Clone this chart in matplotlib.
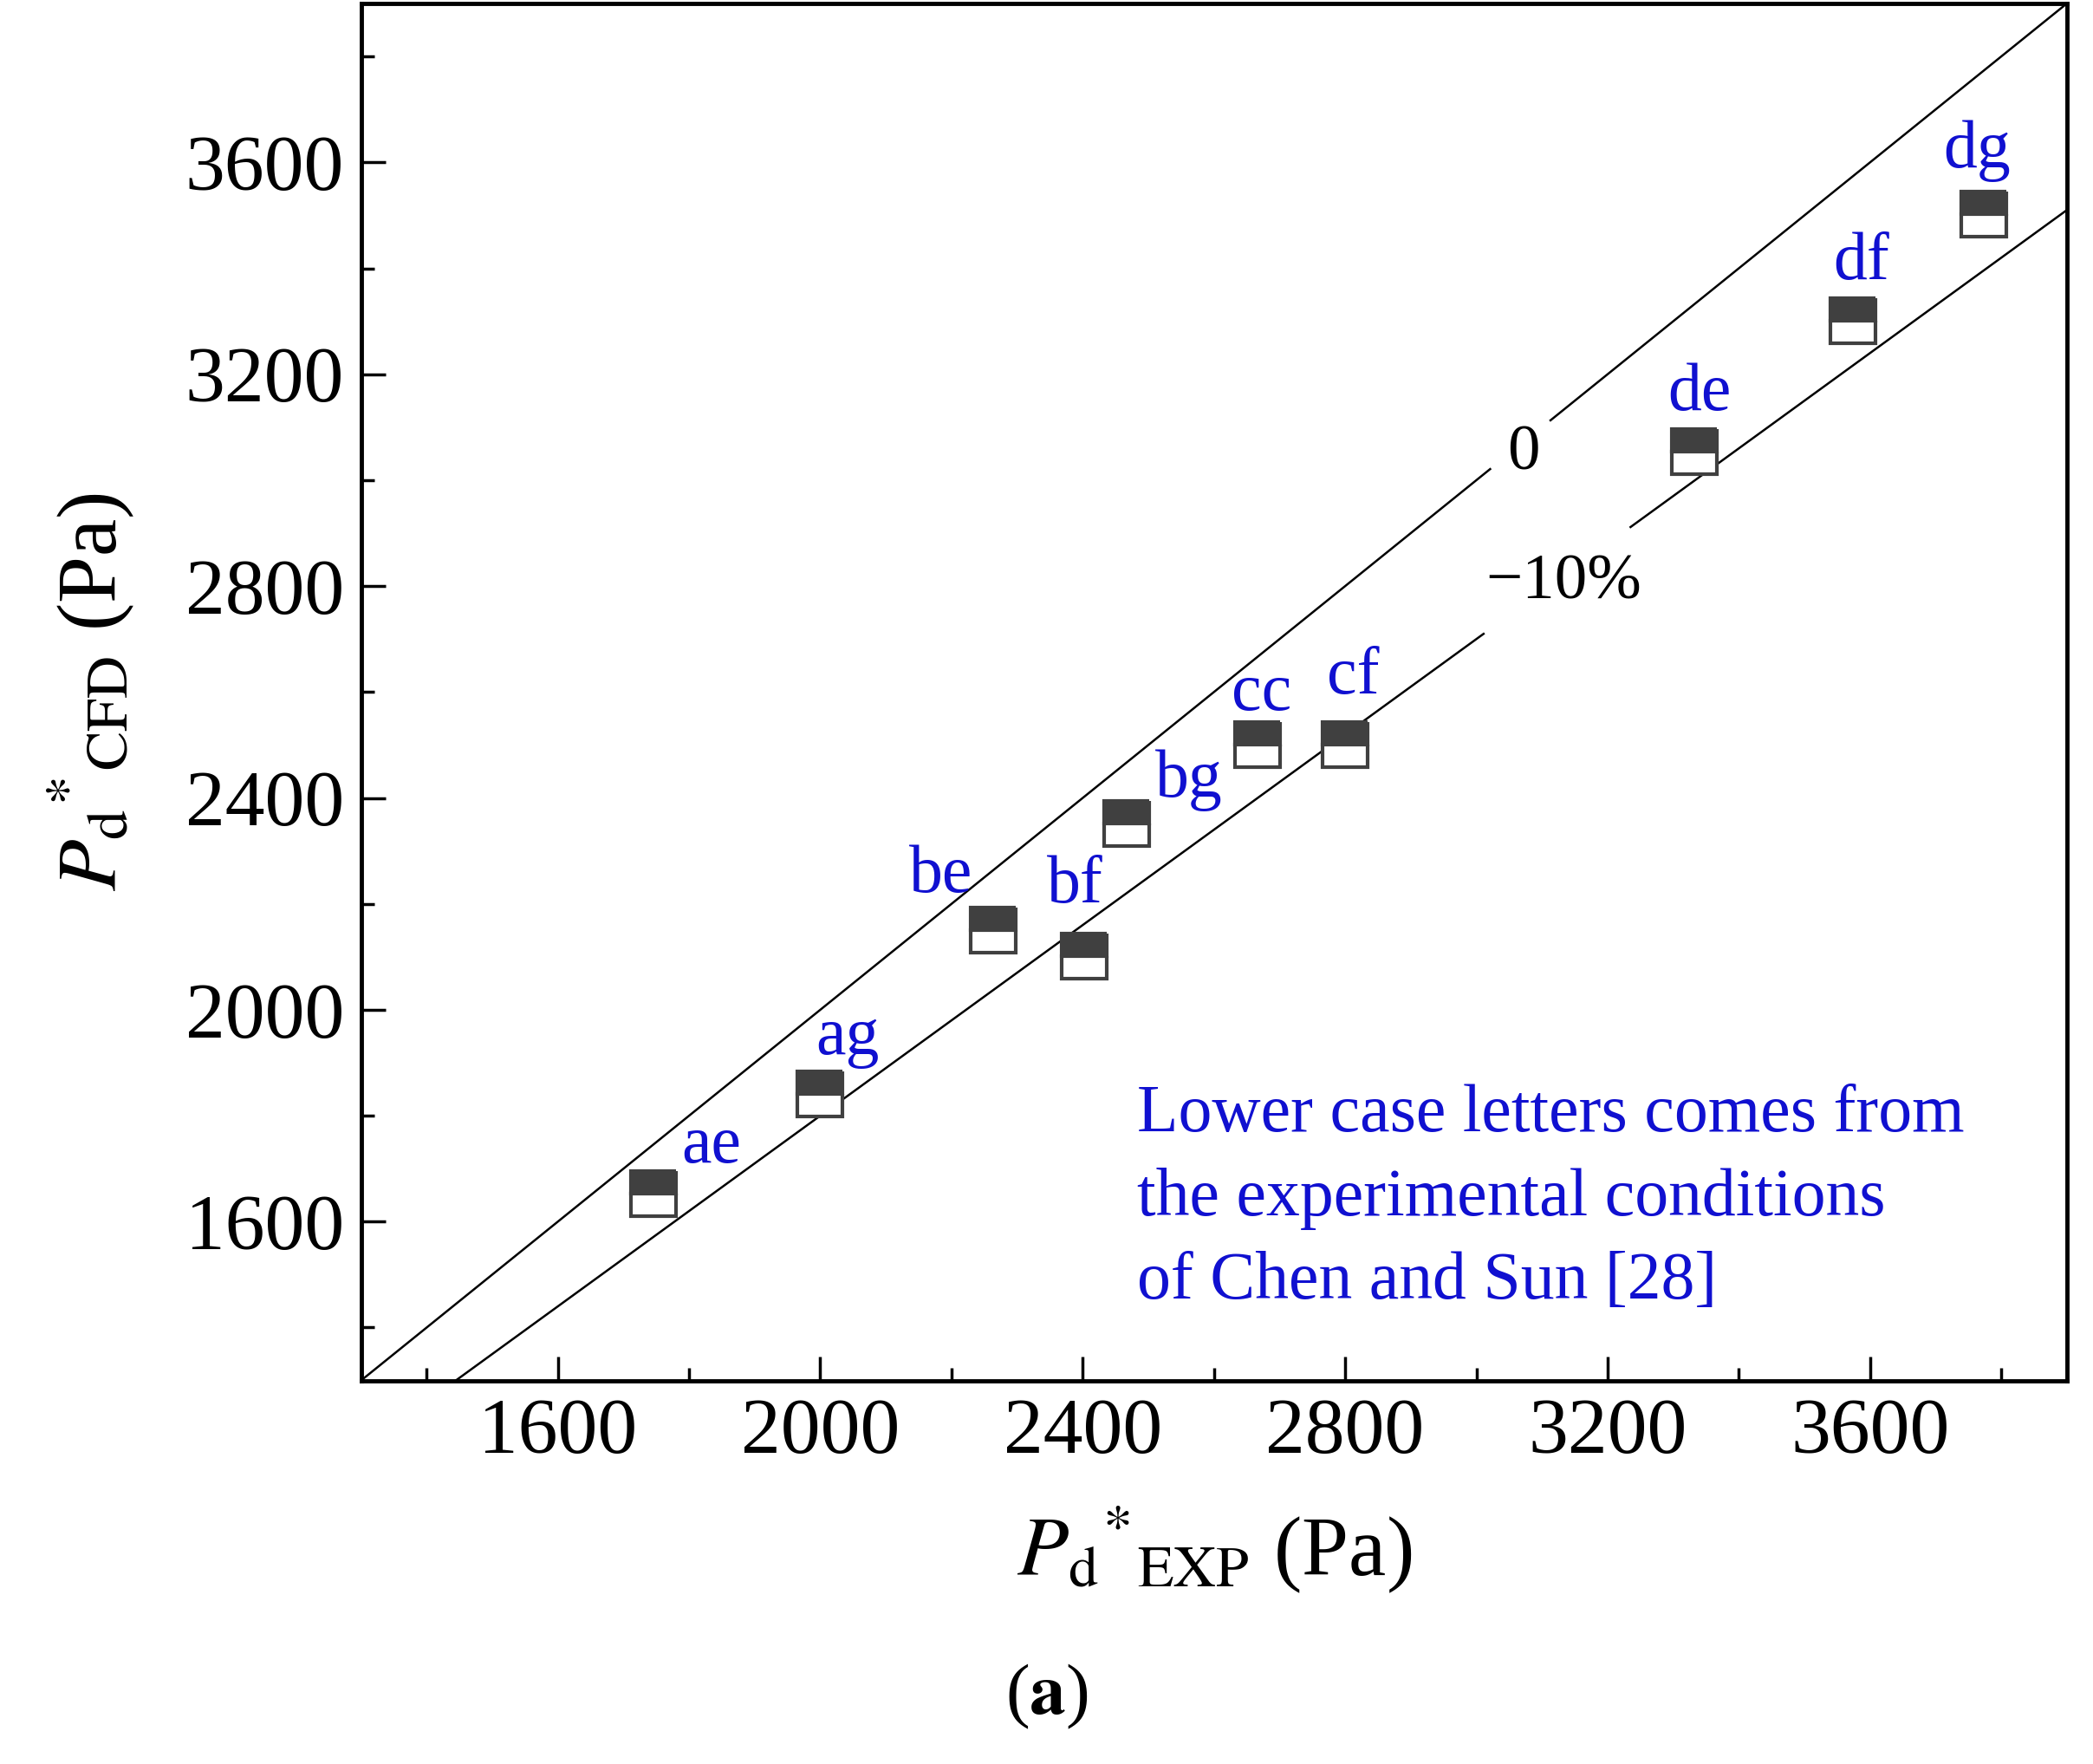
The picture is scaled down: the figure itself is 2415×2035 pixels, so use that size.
import matplotlib
matplotlib.use("Agg")
import matplotlib.pyplot as plt
from matplotlib.ticker import MultipleLocator

plt.rcParams['font.family'] = ['Liberation Serif', 'DejaVu Serif']
plt.rcParams['mathtext.fontset'] = 'stix'

labels = ['ae', 'ag', 'be', 'bf', 'bg', 'cc', 'cf', 'de', 'df', 'dg']
p_exp = [1746, 2000, 2264, 2402, 2467, 2666, 2800, 3332, 3574, 3773]
p_cfd = [1653, 1841, 2151, 2101, 2352, 2501, 2501, 3054, 3301, 3502]
label_off = [(43, 35), (20, 42), (-39, 40), (-7, 52), (46, 32), (3, 38), (6, 50), (4, 43), (6, 43), (-5, 47)]

S = 1.554
fig = plt.figure(figsize=(24.15, 20.35), dpi=100)
ax = fig.add_axes([0.1725, 0.2174, 0.8150, 0.7806])
ax.set_xlim(1300, 3900)
ax.set_ylim(1300, 3900)

# reference lines with gaps for labels
ax.plot([1300, 3021], [1300, 3021], color='black', lw=1.8)
ax.plot([3113, 3900], [3113, 3900], color='black', lw=1.8)
ax.plot([1300, 3011], [1170, 0.9 * 3011], color='black', lw=1.8)
ax.plot([3235, 3900], [0.9 * 3235, 3510], color='black', lw=1.8)
ax.text(3072, 3049, '0', fontsize=54, ha='center', va='center')
ax.text(3133, 2805, '\u221210%', fontsize=54, ha='center', va='center')

ax.plot(p_exp, p_cfd, linestyle='none', marker='s', markersize=38, fillstyle='top',
        markerfacecolor='#404040', markerfacecoloralt='white', markeredgecolor='#404040',
        markeredgewidth=3)
for lab, x, y, (dx, dy) in zip(labels, p_exp, p_cfd, label_off):
    ax.annotate(lab, (x, y), xytext=(dx * S, dy * S), textcoords='offset pixels',
                fontsize=56, color='#1010d0', ha='center', va='center')

ax.text(0.455, 0.132, 'Lower case letters comes from\nthe experimental conditions\nof Chen and Sun [28]',
        transform=ax.transAxes, fontsize=56, color='#1010d0', ha='left', va='center',
        linespacing=1.45)

ax.xaxis.set_minor_locator(MultipleLocator(200))
ax.yaxis.set_minor_locator(MultipleLocator(200))
ax.set_xticks([1600, 2000, 2400, 2800, 3200, 3600])
ax.set_yticks([1600, 2000, 2400, 2800, 3200, 3600])
ax.tick_params(which='both', direction='in', top=False, right=False, width=2.5, labelsize=66, pad=14)
ax.tick_params(which='major', length=20)
ax.tick_params(which='minor', length=11)
for sp in ax.spines.values():
    sp.set_linewidth(3.5)

ax.set_xlabel(r'$P_{\mathrm{d}}{}^{*}{}_{\mathrm{EXP}}$ (Pa)', fontsize=70, labelpad=30)
ax.set_ylabel(r'$P_{\mathrm{d}}{}^{*}{}_{\mathrm{CFD}}$ (Pa)', fontsize=70, labelpad=40)
fig.text(0.5, 0.038, r'($\mathbf{a}$)', fontsize=60, ha='center', va='center')

fig.savefig('out.png', dpi=100)
